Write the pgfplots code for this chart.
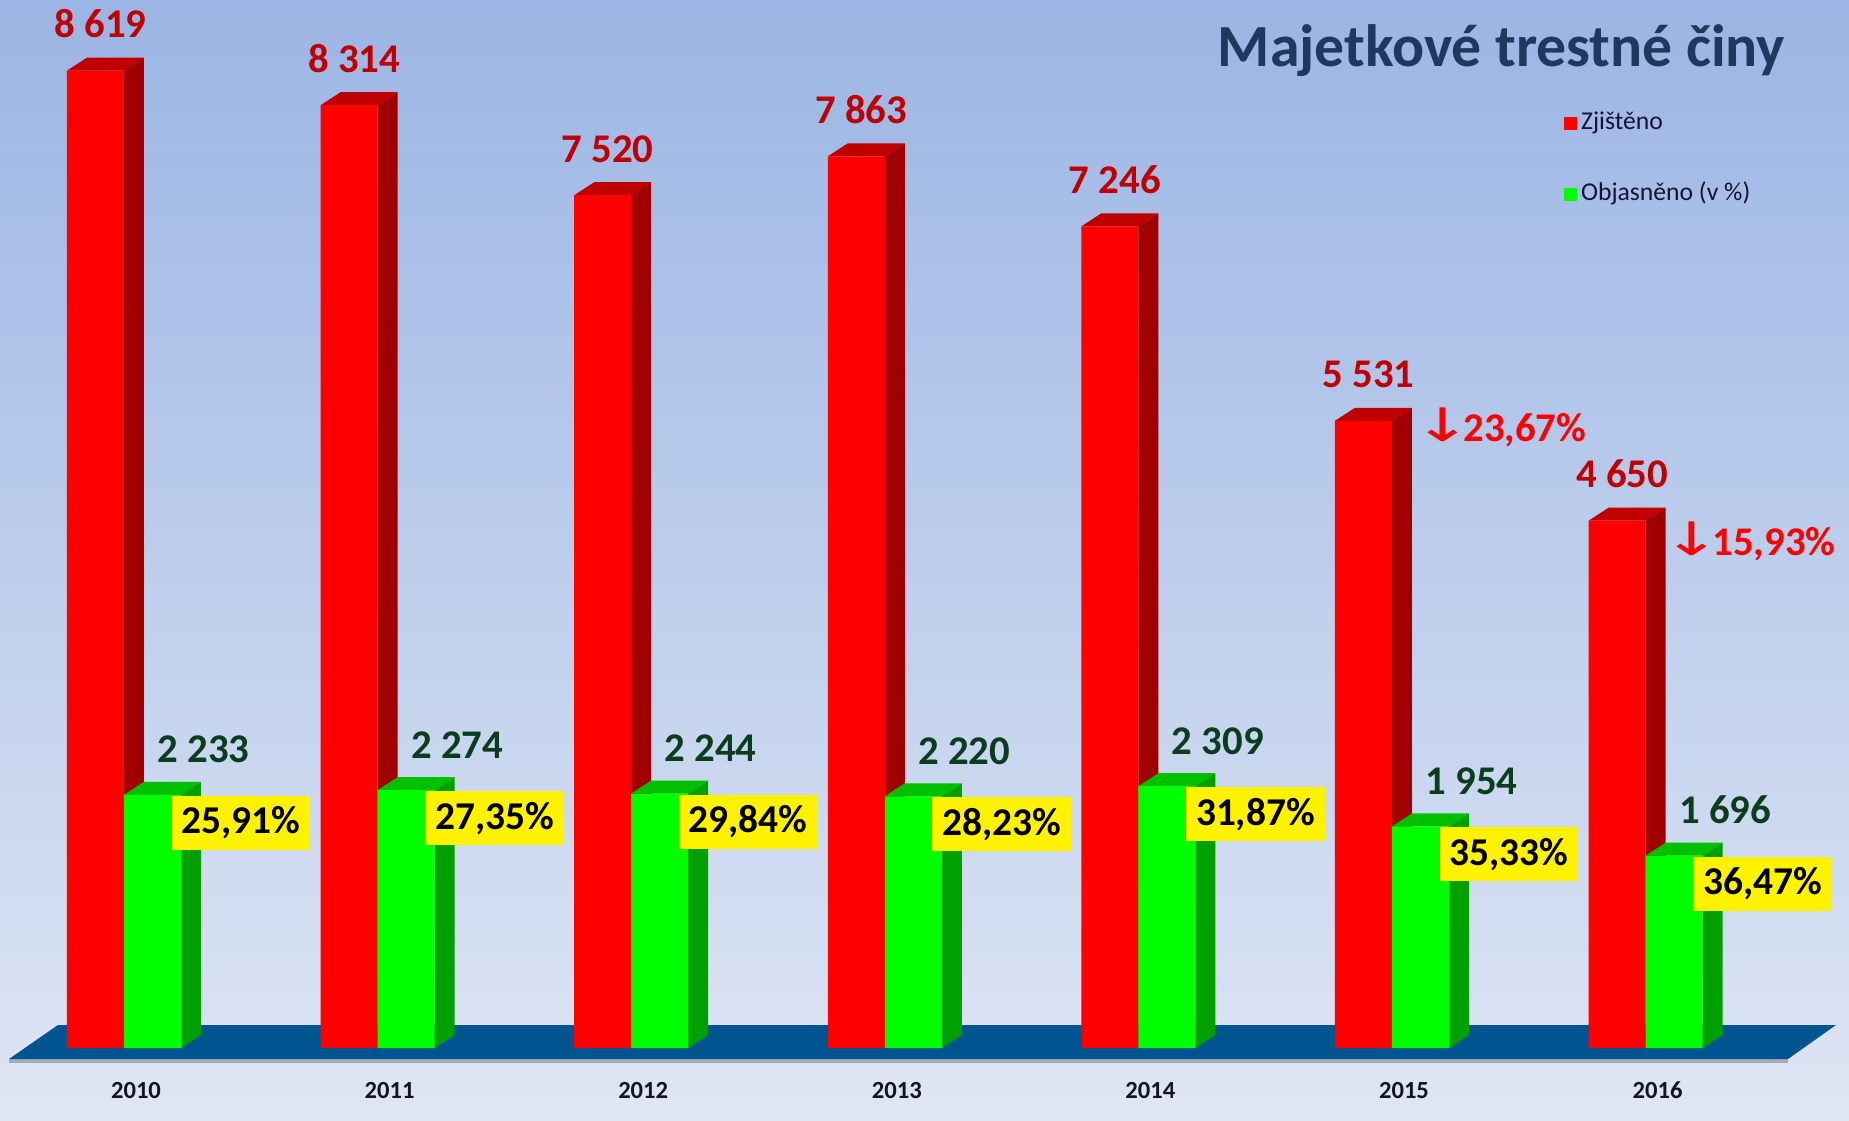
\documentclass[border=0pt]{standalone}
\usepackage{pgfplots}
\pgfplotsset{compat=1.18}
\usepackage{pgfplotstable}
\usepackage{fontspec}
\setmainfont{Carlito}
\newfontfamily\dejavu{DejaVu Sans}

\definecolor{bgtop}{RGB}{155,181,228}
\definecolor{bgbot}{RGB}{223,230,244}
\definecolor{floorc}{RGB}{0,84,144}
\definecolor{zred}{RGB}{255,0,0}
\definecolor{zredtop}{RGB}{192,0,0}
\definecolor{zredside}{RGB}{160,0,0}
\definecolor{ogreen}{RGB}{0,255,0}
\definecolor{ogreentop}{RGB}{0,192,0}
\definecolor{ogreenside}{RGB}{0,160,0}
\definecolor{labred}{RGB}{192,0,0}
\definecolor{labgreen}{RGB}{10,60,30}
\definecolor{titlecol}{RGB}{31,56,93}
\definecolor{legcol}{RGB}{20,20,50}
\definecolor{yearcol}{RGB}{20,20,35}

\newcommand\labfont{\fontsize{11.6}{13}\selectfont\bfseries}
\newcommand\pctfont{\fontsize{11.2}{13}\selectfont\bfseries}
\newcommand\titlefont{\fontsize{17}{20}\selectfont\bfseries}
\newcommand\legfont{\fontsize{7.3}{8}\selectfont}
\newcommand\yearfont{\fontsize{7}{8}\selectfont\bfseries}
\newcommand\downarr{\hspace{-1.5mm}{\dejavu\mdseries\fontsize{10.5}{12}\selectfont\scalebox{1.9}[1.25]{↓}}\hspace{-0.9mm}}

% year index, Zjisteno, Objasneno, Objasneno in %
\pgfplotstableread{
i z o p
0 8619 2233 25.91
1 8314 2274 27.35
2 7520 2244 29.84
3 7863 2220 28.23
4 7246 2309 31.87
5 5531 1954 35.33
6 4650 1696 36.47
}\data

% floor plate
\pgfplotstableread{
x y
-0.4535 -97
-0.2603 203
6.7508 203
6.5615 -97
}\floor

\def\bw{0.22476}
\def\dxv{0.07886}
\def\dyv{114.6}

\begin{document}
\begin{tikzpicture}
\begin{axis}[
  scale only axis,
  width=18.49cm, height=11.2cm,
  xmin=-0.48896, xmax=6.8021,
  ymin=-634.9, ymax=9241.6,
  axis background/.style={top color=bgtop, bottom color=bgbot},
  axis line style={draw=none},
  tick style={draw=none},
  major tick length=0pt,
  ytick=\empty,
  xtick={0,...,6},
  xticklabels={2010,2011,2012,2013,2014,2015,2016},
  xticklabel style={anchor=center, yshift=3mm, xshift=1.2mm, font=\yearfont, text=yearcol},
  /pgf/number format/assume math mode=true,
  legend style={at={(rel axis cs:0.8455,0.905)}, anchor=north west, draw=none, fill=none,
    font=\legfont, text=legcol, row sep=3.9mm, inner sep=0pt,
    nodes={inner sep=0.4mm, text height=1.8mm, text depth=0.6mm}},
  legend cell align=left,
]
% floor shadow and floor
\addplot[draw=black, draw opacity=0.25, line width=0.35mm, yshift=-0.2mm, forget plot] coordinates {(-0.4535,-97) (6.5615,-97)};
\addplot[fill=floorc, draw=none, forget plot] table[x=x, y=y] \floor;

% red 3D faces
\pgfplotsinvokeforeach{0,...,6}{%
  \pgfplotstablegetelem{#1}{z}\of\data
  \pgfmathsetmacro\va{\pgfplotsretval}%
  \pgfmathsetmacro\vb{\va+\dyv}%
  \pgfmathsetmacro\xl{#1-\bw}%
  \pgfmathsetmacro\xr{#1}%
  \pgfmathsetmacro\xlb{\xl+\dxv}%
  \pgfmathsetmacro\xrb{\xr+\dxv}%
  \edef\tmp{%
    \noexpand\addplot[fill=zredside, draw=none, forget plot] coordinates {(\xr,0) (\xrb,\dyv) (\xrb,\vb) (\xr,\va)};
    \noexpand\addplot[fill=zredtop, draw=none, forget plot] coordinates {(\xl,\va) (\xlb,\vb) (\xrb,\vb) (\xr,\va)};
  }\tmp
}

\addplot[ybar, bar width=5.7mm, bar shift=-2.85mm, fill=zred, draw=none,
  legend image code/.code={\fill[zred] (0mm,-0.65mm) rectangle (1.3mm,0.65mm);},
  nodes near coords={\pgfmathprintnumber[fixed, precision=0, 1000 sep={\ }, assume math mode=true]{\pgfplotspointmeta}},
  every node near coord/.append style={anchor=base, xshift=-2.35mm, yshift=3.3mm, font=\labfont, text=labred, inner sep=0pt}
] table[x=i, y=z] \data;
\addlegendentry{Zjištěno}

% green 3D faces
\pgfplotsinvokeforeach{0,...,6}{%
  \pgfplotstablegetelem{#1}{o}\of\data
  \pgfmathsetmacro\va{\pgfplotsretval}%
  \pgfmathsetmacro\vb{\va+\dyv}%
  \pgfmathsetmacro\xl{#1}%
  \pgfmathsetmacro\xr{#1+\bw}%
  \pgfmathsetmacro\xlb{\xl+\dxv}%
  \pgfmathsetmacro\xrb{\xr+\dxv}%
  \edef\tmp{%
    \noexpand\addplot[fill=ogreenside, draw=none, forget plot] coordinates {(\xr,0) (\xrb,\dyv) (\xrb,\vb) (\xr,\va)};
    \noexpand\addplot[fill=ogreentop, draw=none, forget plot] coordinates {(\xl,\va) (\xlb,\vb) (\xrb,\vb) (\xr,\va)};
  }\tmp
}

\addplot[ybar, bar width=5.7mm, bar shift=2.85mm, fill=ogreen, draw=none,
  legend image code/.code={\fill[ogreen] (0mm,-0.65mm) rectangle (1.3mm,0.65mm);},
  nodes near coords={\pgfmathprintnumber[fixed, precision=0, 1000 sep={\ }, assume math mode=true]{\pgfplotspointmeta}},
  every node near coord/.append style={anchor=base, xshift=7.95mm, yshift=3.2mm, font=\labfont, text=labgreen, inner sep=0pt}
] table[x=i, y=o] \data;
\addlegendentry{Objasněno (v \%)}

% percentage boxes
\addplot[draw=none, mark=none, forget plot, point meta=explicit,
  nodes near coords={\pgfmathprintnumber[fixed, fixed zerofill, precision=2, use comma, assume math mode=true]{\pgfplotspointmeta}\%},
  every node near coord/.append style={anchor=center, xshift=11.7mm, yshift=-2.8mm, font=\pctfont, text=black,
    fill=yellow, inner xsep=1mm, inner ysep=0pt, minimum height=5.4mm}
] table[x=i, y=o, meta=p] \data;

% decrease annotations
\node[anchor=base west, inner sep=0pt, font=\labfont, text=red] at (axis cs:5.142,5344) {\downarr 23,67\%};
\node[anchor=base west, inner sep=0pt, font=\labfont, text=red] at (axis cs:6.124,4347) {\downarr 15,93\%};

% title
\node[anchor=base east, inner sep=0pt, font=\titlefont, text=titlecol] at (rel axis cs:0.9659,0.9402) {Majetkové trestné činy};
\end{axis}
\end{tikzpicture}
\end{document}
